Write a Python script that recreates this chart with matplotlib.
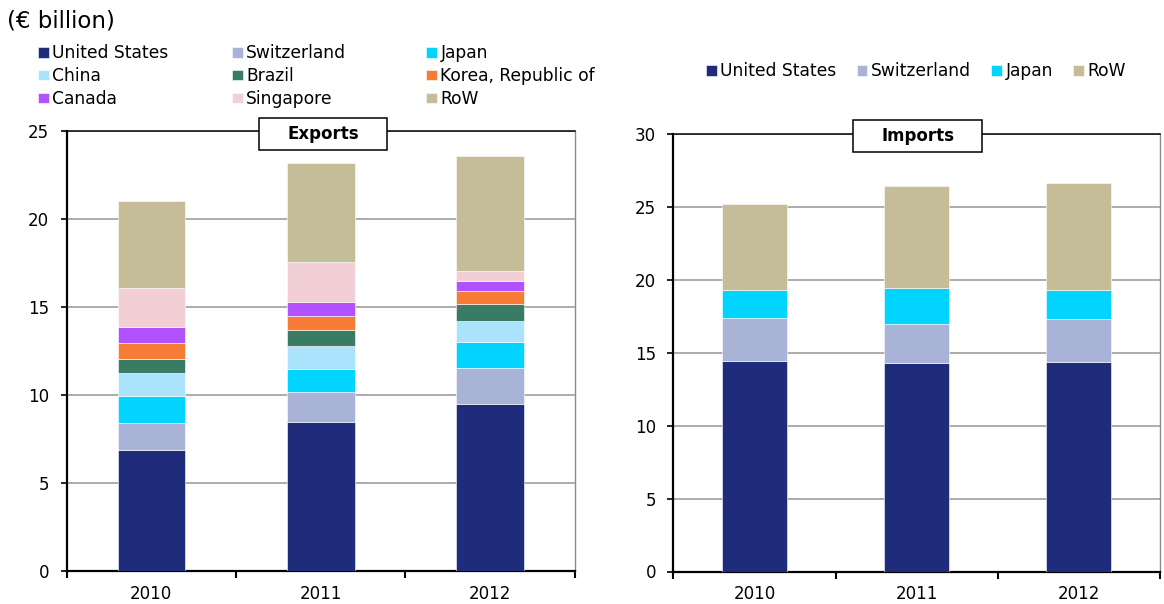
import numpy as np
import matplotlib.pyplot as plt
from matplotlib.patches import Rectangle

plt.rcParams["font.family"] = ["DejaVu Sans"]

years = ["2010", "2011", "2012"]

# exports by partner (€ billion)
exp_partners = ["United States", "Switzerland", "Japan", "China", "Brazil",
                "Korea, Republic of", "Canada", "Singapore", "RoW"]
exp_us = [6.86, 8.45, 9.47]
exp_ch = [1.53, 1.69, 2.06]
exp_jp = [1.52, 1.34, 1.50]
exp_cn = [1.32, 1.32, 1.19]
exp_br = [0.82, 0.89, 0.95]
exp_kr = [0.89, 0.78, 0.74]
exp_ca = [0.92, 0.81, 0.57]
exp_sg = [2.22, 2.30, 0.55]
exp_row = [4.92, 5.58, 6.55]

# imports by partner (€ billion)
imp_partners = ["United States", "Switzerland", "Japan", "RoW"]
imp_us = [14.42, 14.30, 14.35]
imp_ch = [2.92, 2.65, 2.94]
imp_jp = [1.92, 2.49, 2.01]
imp_row = [5.89, 6.96, 7.33]

colors = {
    "United States": "#1f2b7b",
    "Switzerland": "#a9b3d7",
    "Japan": "#00d4ff",
    "China": "#abe3fc",
    "Brazil": "#3a7b65",
    "Korea, Republic of": "#f77d36",
    "Canada": "#b252ff",
    "Singapore": "#f1cfd4",
    "RoW": "#c4bd97",
}

W, H = 1164, 604
fig = plt.figure(figsize=(W / 100, H / 100), dpi=100)
ax1 = fig.add_axes([66.7 / W, 1 - 570.7 / H, 508 / W, 439.7 / H])
ax2 = fig.add_axes([673.3 / W, 1 - 571.5 / H, 486.7 / W, 437.8 / H])


def stacked(ax, names, series, ymax):
    x = np.arange(len(years))
    bottom = np.zeros(len(years))
    bars = []
    for name, vals in zip(names, series):
        b = ax.bar(x, vals, 0.4, bottom=bottom, color=colors[name],
                   edgecolor="white", linewidth=0.4, label=name, zorder=3)
        bars.append(b)
        bottom += np.array(vals)
    ax.set_xlim(-0.5, 2.5)
    ax.set_ylim(0, ymax)
    ax.set_yticks(np.arange(0, ymax + 1, 5))
    ax.set_xticks(x, years)
    ax.set_xticks([-0.5, 0.5, 1.5, 2.5], minor=True)
    ax.tick_params(axis="x", which="major", length=0, pad=10, labelsize=12)
    ax.tick_params(axis="x", which="minor", length=5, width=1.5, direction="out")
    ax.tick_params(axis="y", length=4, width=1.2, pad=8.5, labelsize=12)
    ax.grid(axis="y", color="#969696", linewidth=1.1, zorder=0)
    ax.set_axisbelow(True)
    for s in ("left", "bottom"):
        ax.spines[s].set_linewidth(1.6)
    ax.spines["top"].set_linewidth(1.1)
    ax.spines["right"].set_color("#8c8c8c")
    ax.spines["right"].set_linewidth(1.0)
    return bars


def title_box(ax, text, cx, cy, w, h):
    ax.add_patch(Rectangle((cx - w / 2, cy - h / 2), w, h, transform=ax.transAxes,
                           facecolor="white", edgecolor="black", linewidth=1.1,
                           clip_on=False, zorder=5))
    ax.text(cx, cy, text, transform=ax.transAxes, ha="center", va="center",
            fontsize=12, fontweight="bold", zorder=6)


exp_bars = stacked(ax1, exp_partners,
                   [exp_us, exp_ch, exp_jp, exp_cn, exp_br, exp_kr, exp_ca, exp_sg, exp_row], 25)
imp_bars = stacked(ax2, imp_partners, [imp_us, imp_ch, imp_jp, imp_row], 30)

title_box(ax1, "Exports", 0.505, 0.9925, 128 / 508, 32 / 440)
title_box(ax2, "Imports", 0.502, 0.995, 128.4 / 486.7, 31.7 / 437.8)

fig.text(7 / W, 1 - 28 / H, "(€ billion)", fontsize=16.5, va="baseline")

leg_kw = dict(frameon=False, fontsize=12.3, borderpad=0, borderaxespad=0,
              handlelength=0.62, handleheight=0.55, handletextpad=0.22,
              loc="upper left")

# export legend: three columns, read row by row
for col, x0 in enumerate([38, 232, 426]):
    fig.legend(exp_bars[col::3], exp_partners[col::3],
               bbox_to_anchor=(x0 / W, 1 - 44.5 / H), labelspacing=0.27, **leg_kw)

fig.legend(imp_bars, imp_partners, ncol=4, columnspacing=1.18,
           bbox_to_anchor=(706 / W, 1 - 62.5 / H), **leg_kw)

fig.savefig("out.png", dpi=100)
